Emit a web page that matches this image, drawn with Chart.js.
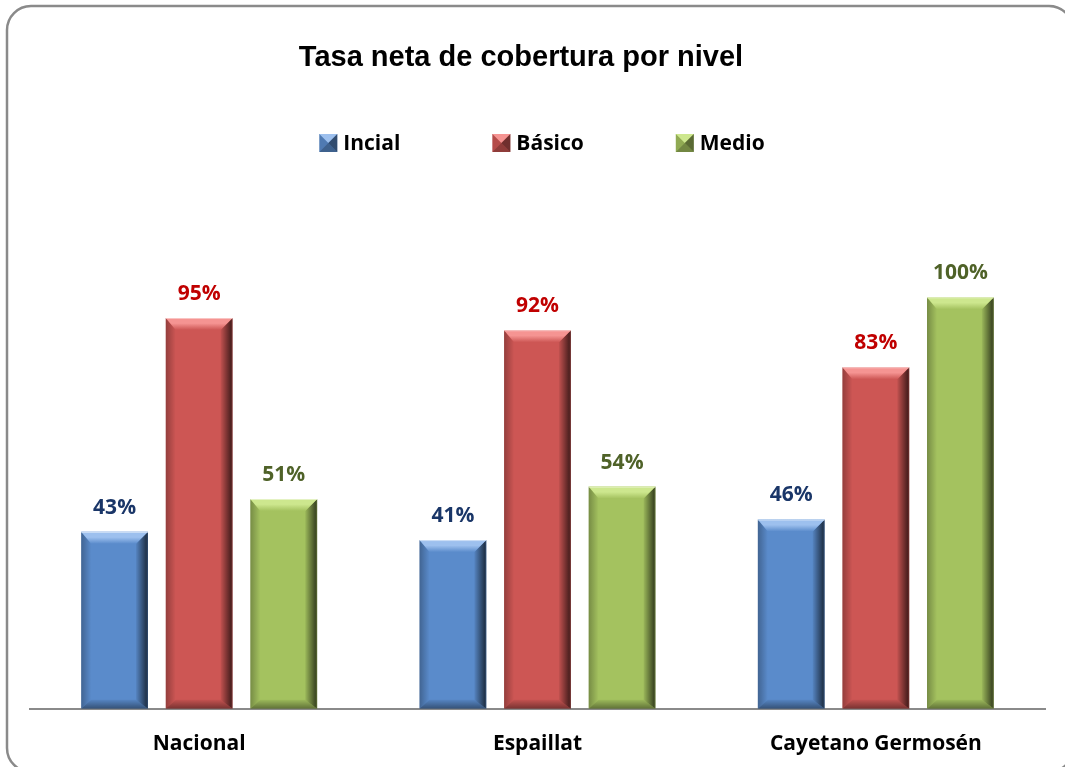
<!DOCTYPE html>
<html>
<head>
<meta charset="utf-8">
<script src="https://cdn.jsdelivr.net/npm/chart.js@4.4.1/dist/chart.umd.min.js"></script>
<style>
  html, body { margin: 0; padding: 0; background: #fff; }
  #wrap { width: 1065px; height: 767px; position: relative; }
</style>
</head>
<body>
<div id="wrap"><canvas id="c" width="1065" height="767"></canvas></div>
<script>
// data
const categories = ["Nacional", "Espaillat", "Cayetano Germosén"];
const seriesNames = ["Incial", "Básico", "Medio"];
const incial = [0.43, 0.41, 0.46];
const basico = [0.95, 0.92, 0.83];
const medio = [0.51, 0.54, 1.00];
const chartTitle = "Tasa neta de cobertura por nivel";

// look of each series
const styles = [
  { base: "#5A8BCB", light: "#9DC0EE", label: "#1A3668" },
  { base: "#CD5654", light: "#F59492", label: "#C00000" },
  { base: "#A4C25F", light: "#CDE78E", label: "#4F6228" },
];
const boldFont = "bold 21px 'Open Sans', sans-serif";

function poly(ctx, pts, fill) {
  ctx.beginPath();
  ctx.moveTo(pts[0][0], pts[0][1]);
  for (let k = 1; k < pts.length; k++) ctx.lineTo(pts[k][0], pts[k][1]);
  ctx.closePath();
  ctx.fillStyle = fill;
  ctx.fill();
}

// frame round the whole picture
const framePlugin = {
  id: "frame",
  beforeDraw(chart) {
    const ctx = chart.ctx;
    ctx.save();
    ctx.fillStyle = "#fff";
    ctx.fillRect(0, 0, chart.width, chart.height);
    ctx.strokeStyle = "#8a8a8a";
    ctx.lineWidth = 2.5;
    ctx.beginPath();
    ctx.roundRect(7, 6, 1066, 766, 24);
    ctx.stroke();
    ctx.restore();
  },
};

// bevel on the bars, then the value labels
const bevelPlugin = {
  id: "bevel",
  afterDatasetsDraw(chart) {
    const ctx = chart.ctx;
    ctx.save();
    chart.data.datasets.forEach((ds, i) => {
      const st = styles[i];
      chart.getDatasetMeta(i).data.forEach((bar, j) => {
        const p = bar.getProps(["x", "y", "base", "width"], true);
        const L = p.x - p.width / 2, R = p.x + p.width / 2, T = p.y, B = p.base;
        const bt = 12, bs = 12, bl = 10, bb = 9;
        let g;
        // left
        g = ctx.createLinearGradient(L, 0, L + bl, 0);
        g.addColorStop(0, "rgba(0,0,0,0.28)");
        g.addColorStop(1, "rgba(0,0,0,0)");
        poly(ctx, [[L, T], [L + bl, T + bt], [L + bl, B - bb], [L, B]], g);
        // right
        g = ctx.createLinearGradient(R - bs, 0, R, 0);
        g.addColorStop(0, "rgba(0,0,0,0.05)");
        g.addColorStop(0.85, "rgba(0,0,0,0.62)");
        g.addColorStop(1, "rgba(0,0,0,0.45)");
        poly(ctx, [[R, T], [R, B], [R - bs, B - bb], [R - bs, T + bt]], g);
        // bottom
        g = ctx.createLinearGradient(0, B - bb, 0, B);
        g.addColorStop(0, "rgba(0,0,0,0.05)");
        g.addColorStop(1, "rgba(0,0,0,0.42)");
        poly(ctx, [[L, B], [R, B], [R - bs, B - bb], [L + bl, B - bb]], g);
        // top
        g = ctx.createLinearGradient(0, T, 0, T + bt);
        g.addColorStop(0, st.light);
        g.addColorStop(0.45, st.light);
        g.addColorStop(1, st.base);
        poly(ctx, [[L, T], [R, T], [R - bs, T + bt], [L + bl, T + bt]], g);
        ctx.fillStyle = "rgba(255,255,255,0.5)";
        ctx.fillRect(L, T, p.width, 1);

        // value label
        ctx.fillStyle = st.label;
        ctx.font = boldFont;
        ctx.textAlign = "center";
        ctx.textBaseline = "middle";
        ctx.fillText(Math.round(ds.data[j] * 100) + "%", p.x, T - 24);
      });
    });
    ctx.restore();
  },
};

// title and legend
const headPlugin = {
  id: "head",
  afterDraw(chart) {
    const ctx = chart.ctx;
    ctx.save();
    ctx.fillStyle = "#000";
    ctx.textAlign = "center";
    ctx.textBaseline = "middle";
    ctx.font = "bold 29px 'Liberation Sans', Arial, sans-serif";
    ctx.fillText(chartTitle, 521, 58);

    ctx.font = boldFont;
    const box = 18, gap = 6, space = 92;
    const widths = seriesNames.map(n => box + gap + ctx.measureText(n).width);
    const total = widths.reduce((a, b) => a + b, 0) + space * (seriesNames.length - 1);
    let x = 542 - total / 2;
    const yc = 143;
    ctx.textAlign = "left";
    seriesNames.forEach((n, i) => {
      const st = styles[i];
      const x0 = x, y0 = yc - box / 2, x1 = x + box, y1 = yc + box / 2;
      const cx = x + box / 2, cy = yc;
      poly(ctx, [[x0, y0], [x0, y1], [x1, y1], [x1, y0]], st.base);
      poly(ctx, [[x0, y0], [x1, y0], [cx, cy]], st.light);
      poly(ctx, [[x1, y0], [x1, y1], [cx, cy]], "rgba(0,0,0,0.45)");
      poly(ctx, [[x0, y1], [x1, y1], [cx, cy]], "rgba(0,0,0,0.3)");
      poly(ctx, [[x0, y0], [x0, y1], [cx, cy]], "rgba(0,0,0,0.12)");
      ctx.fillStyle = "#000";
      ctx.fillText(n, x + box + gap, yc + 1);
      x += widths[i] + space;
    });
    ctx.restore();
  },
};

new Chart(document.getElementById("c"), {
  type: "bar",
  data: {
    labels: categories,
    datasets: [
      { label: seriesNames[0], data: incial, backgroundColor: styles[0].base },
      { label: seriesNames[1], data: basico, backgroundColor: styles[1].base },
      { label: seriesNames[2], data: medio, backgroundColor: styles[2].base },
    ],
  },
  options: {
    responsive: false,
    animation: false,
    devicePixelRatio: 1,
    categoryPercentage: 0.75,
    barPercentage: 0.79,
    layout: { padding: { left: 30, right: 20, top: 215, bottom: -13 } },
    plugins: {
      legend: { display: false },
      title: { display: false },
      tooltip: { enabled: false },
    },
    scales: {
      y: { display: false, min: 0, max: 1.2 },
      x: {
        grid: { display: false, drawTicks: false },
        border: { display: true, color: "#8a8a8a", width: 2 },
        ticks: { color: "#000", font: { family: "'Open Sans', sans-serif", size: 21, weight: "bold" }, padding: 23 },
      },
    },
  },
  plugins: [framePlugin, bevelPlugin, headPlugin],
});
</script>
</body>
</html>
